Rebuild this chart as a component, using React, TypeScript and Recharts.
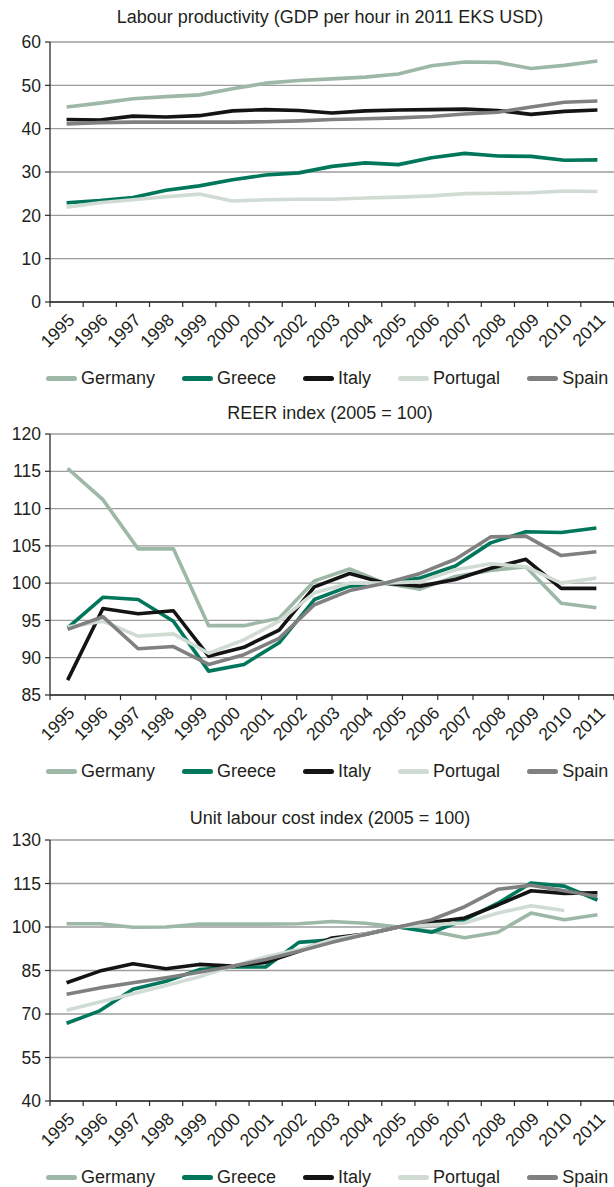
import React from "react";
import { LineChart, Line, XAxis, YAxis, CartesianGrid, Legend } from "recharts";

const FONT = '"Liberation Sans", Arial, Helvetica, sans-serif';
const TEXT = "#231f20";
const GRID = "#9d9d9d";
const AXIS = "#2b2b2b";

// category labels shown under every chart
const years = [1995, 1996, 1997, 1998, 1999, 2000, 2001, 2002, 2003, 2004, 2005, 2006, 2007, 2008, 2009, 2010, 2011];
// the REER panel only has 16 observations
const reerYears = [1995, 1996, 1997, 1998, 1999, 2000, 2001, 2002, 2003, 2004, 2005, 2006, 2007, 2008, 2009, 2010];

const countries = ["Germany", "Greece", "Italy", "Portugal", "Spain"];
const countryColors = ["#9db8a7", "#00775b", "#141414", "#d0dcd3", "#808080"];

// Labour productivity (GDP per hour in 2011 EKS USD)
const prodGermany = [45.0, 45.9, 46.9, 47.4, 47.8, 49.2, 50.5, 51.1, 51.5, 51.9, 52.6, 54.5, 55.4, 55.3, 53.9, 54.6, 55.6];
const prodGreece = [22.9, 23.4, 24.1, 25.8, 26.8, 28.2, 29.3, 29.8, 31.3, 32.1, 31.7, 33.3, 34.3, 33.7, 33.6, 32.7, 32.8];
const prodItaly = [42.1, 42.0, 42.9, 42.7, 43.0, 44.1, 44.4, 44.2, 43.6, 44.1, 44.3, 44.4, 44.5, 44.2, 43.3, 44.0, 44.3];
const prodPortugal = [21.9, 22.9, 23.6, 24.3, 24.9, 23.3, 23.6, 23.7, 23.7, 24.0, 24.2, 24.5, 25.0, 25.1, 25.2, 25.6, 25.5];
const prodSpain = [41.1, 41.4, 41.5, 41.5, 41.5, 41.5, 41.6, 41.8, 42.1, 42.3, 42.5, 42.8, 43.4, 43.8, 45.0, 46.1, 46.4];

// REER index (2005 = 100)
const reerGermany = [115.4, 111.2, 104.6, 104.6, 94.3, 94.3, 95.3, 100.3, 101.9, 100.0, 99.2, 100.9, 101.7, 102.2, 97.3, 96.7];
const reerGreece = [94.0, 98.1, 97.8, 94.9, 88.2, 89.1, 92.0, 97.8, 99.6, 100.0, 100.7, 102.3, 105.4, 106.9, 106.8, 107.4];
const reerItaly = [87.0, 96.6, 95.9, 96.3, 90.2, 91.4, 93.7, 99.5, 101.3, 100.0, 99.6, 100.5, 102.0, 103.2, 99.3, 99.3];
const reerPortugal = [94.1, 94.9, 92.9, 93.2, 90.6, 92.4, 94.9, 98.7, 100.0, 100.0, 100.2, 101.8, 102.6, 102.2, 100.0, 100.7];
const reerSpain = [93.8, 95.5, 91.2, 91.5, 89.1, 90.4, 92.6, 97.1, 99.0, 100.0, 101.3, 103.2, 106.2, 106.3, 103.7, 104.2];

// Unit labour cost index (2005 = 100)
const ulcGermany = [101.1, 101.1, 99.9, 100.0, 101.0, 101.0, 101.0, 101.1, 101.9, 101.3, 100.0, 98.5, 96.3, 98.2, 104.8, 102.5, 104.2];
const ulcGreece = [66.8, 71.1, 78.5, 81.3, 85.3, 86.2, 86.2, 94.7, 95.6, 97.4, 100.0, 98.2, 102.5, 108.2, 115.2, 114.1, 109.3];
const ulcItaly = [80.8, 84.8, 87.3, 85.6, 87.1, 86.5, 87.8, 91.6, 96.2, 97.6, 100.0, 101.6, 103.1, 107.6, 112.5, 111.6, 111.8];
const ulcPortugal = [71.3, 74.1, 77.0, 79.8, 82.8, 86.5, 89.7, 92.2, 95.6, 97.6, 100.0, 100.8, 101.4, 104.8, 107.3, 105.7, null];
const ulcSpain = [76.8, 79.0, 80.8, 82.5, 84.4, 86.5, 88.8, 91.6, 94.7, 97.4, 100.0, 102.5, 107.0, 113.0, 114.4, 112.5, 110.5];

const prodTicks = [0, 10, 20, 30, 40, 50, 60];
const reerTicks = [85, 90, 95, 100, 105, 110, 115, 120];
const ulcTicks = [40, 55, 70, 85, 100, 115, 130];

const X_AXIS_H = 59;
const LEGEND_H = 34;

const key = (v: number) => v.toFixed(4);

const makeYearTick = (labels: Map<string, number>, marks: Set<string>) => (props: any) => {
  const { x, y, payload } = props;
  const k = key(payload.value);
  const year = labels.get(k);
  return (
    <g>
      {marks.has(k) && <line x1={x} x2={x} y1={y} y2={y + 5} stroke={AXIS} strokeWidth={1.2} />}
      {year !== undefined && (
        <text
          transform={`translate(${x + 9},${y + 19}) rotate(-45)`}
          textAnchor="end"
          fontSize={17.5}
          fontFamily={FONT}
          fill={TEXT}
        >
          {year}
        </text>
      )}
    </g>
  );
};

const renderLegend = () => (
  <div
    style={{
      display: "flex",
      alignItems: "center",
      height: LEGEND_H,
      paddingLeft: 46,
      fontFamily: FONT,
      fontSize: 18,
      color: TEXT,
      whiteSpace: "nowrap",
    }}
  >
    {countries.map((c, i) => (
      <div key={c} style={{ display: "flex", alignItems: "center", marginRight: 27 }}>
        <span
          style={{
            display: "inline-block",
            width: 31,
            height: 5,
            borderRadius: 3,
            background: countryColors[i],
            marginRight: 4,
          }}
        />
        <span>{c}</span>
      </div>
    ))}
  </div>
);

type PanelProps = {
  top: number;
  plotTop: number;
  plotHeight: number;
  titleY: number;
  title: string;
  pointYears: number[];
  values: (number | null)[][];
  yTicks: number[];
};

const Panel = ({ top, plotTop, plotHeight, titleY, title, pointYears, values, yTicks }: PanelProps) => {
  const height = plotTop + plotHeight + X_AXIS_H + LEGEND_H + 2;
  const rows = pointYears.map((year, i) => {
    const row: Record<string, number | null> = { year };
    countries.forEach((c, k) => {
      row[c] = values[k][i];
    });
    return row;
  });
  const first = pointYears[0];
  const last = pointYears[pointYears.length - 1];
  const span = pointYears.length;
  const bounds = [...pointYears.map((y) => y - 0.5), last + 0.5];
  const marks = new Set(bounds.map(key));
  // year labels are spread evenly over the full axis, whatever the number of points
  const labels = new Map<string, number>();
  const labelTicks = years.map((yr, k) => {
    const v = first - 0.5 + ((k + 0.5) * span) / years.length;
    labels.set(key(v), yr);
    return v;
  });
  const allTicks: number[] = [];
  const seen = new Set<string>();
  [...bounds, ...labelTicks].forEach((v) => {
    if (!seen.has(key(v))) {
      seen.add(key(v));
      allTicks.push(v);
    }
  });
  allTicks.sort((a, b) => a - b);
  const YearTick = makeYearTick(labels, marks);

  return (
    <div style={{ position: "absolute", left: 0, top, width: 614, height }}>
      <div
        style={{
          position: "absolute",
          left: 0,
          width: 660,
          top: titleY - 11,
          textAlign: "center",
          fontFamily: FONT,
          fontSize: 18,
          lineHeight: "22px",
          color: TEXT,
          whiteSpace: "nowrap",
        }}
      >
        {title}
      </div>
      <LineChart width={614} height={height} data={rows} margin={{ top: plotTop, right: 0, bottom: 2, left: 0 }}>
        <CartesianGrid vertical={false} stroke={GRID} strokeWidth={1.3} />
        <XAxis
          type="number"
          dataKey="year"
          domain={[first - 0.5, last + 0.5]}
          allowDataOverflow
          ticks={allTicks}
          interval={0}
          height={X_AXIS_H}
          tickSize={0}
          tickMargin={0}
          tickLine={false}
          tick={YearTick}
          axisLine={{ stroke: AXIS, strokeWidth: 1.3 }}
        />
        <YAxis
          width={50}
          domain={[yTicks[0], yTicks[yTicks.length - 1]]}
          ticks={yTicks}
          interval={0}
          tickSize={5}
          tickMargin={4}
          axisLine={{ stroke: AXIS, strokeWidth: 1.3 }}
          tickLine={{ stroke: AXIS, strokeWidth: 1.2 }}
          tick={{ fill: TEXT, fontSize: 17.5, fontFamily: FONT }}
        />
        <Legend verticalAlign="bottom" height={LEGEND_H} content={renderLegend} />
        {countries.map((c, i) => (
          <Line
            key={c}
            type="linear"
            dataKey={c}
            stroke={countryColors[i]}
            strokeWidth={3.6}
            strokeLinejoin="round"
            dot={false}
            activeDot={false}
            isAnimationActive={false}
          />
        ))}
      </LineChart>
    </div>
  );
}

export default function App() {
  return (
    <div
      style={{
        position: "absolute",
        left: 0,
        top: 0,
        width: 614,
        height: 1187,
        overflow: "hidden",
        background: "#fff",
      }}
    >
      <Panel
        top={0}
        plotTop={42}
        plotHeight={260}
        titleY={17}
        title="Labour productivity (GDP per hour in 2011 EKS USD)"
        pointYears={years}
        values={[prodGermany, prodGreece, prodItaly, prodPortugal, prodSpain]}
        yTicks={prodTicks}
      />
      <Panel
        top={397}
        plotTop={37}
        plotHeight={261}
        titleY={16}
        title="REER index (2005 = 100)"
        pointYears={reerYears}
        values={[reerGermany, reerGreece, reerItaly, reerPortugal, reerSpain]}
        yTicks={reerTicks}
      />
      <Panel
        top={790}
        plotTop={50}
        plotHeight={261}
        titleY={28}
        title="Unit labour cost index (2005 = 100)"
        pointYears={years}
        values={[ulcGermany, ulcGreece, ulcItaly, ulcPortugal, ulcSpain]}
        yTicks={ulcTicks}
      />
    </div>
  );
}
